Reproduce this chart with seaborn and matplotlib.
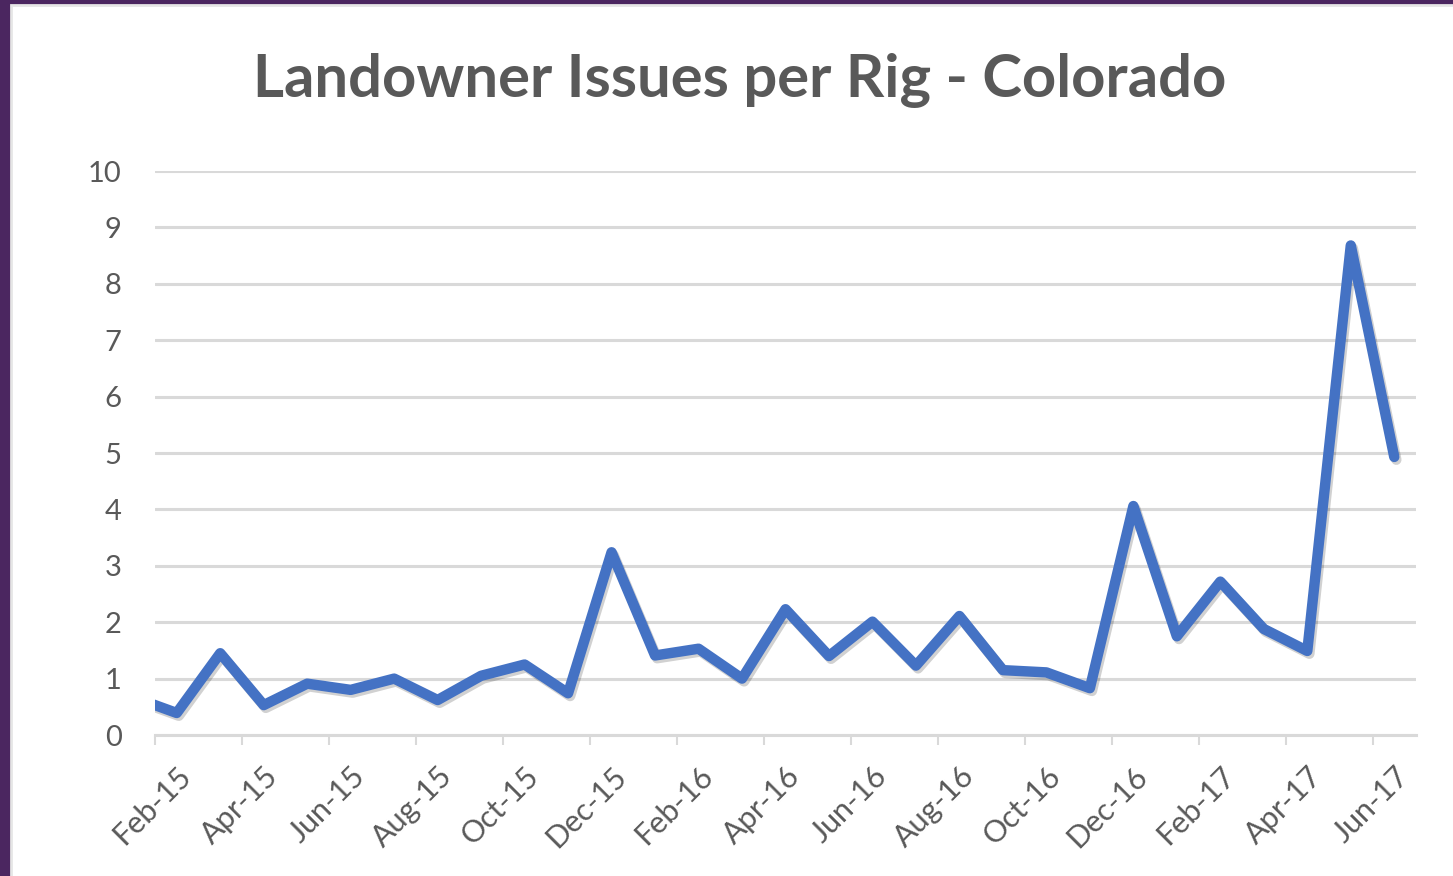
import numpy as np
import pandas as pd
import matplotlib
matplotlib.use("Agg")
import matplotlib.pyplot as plt
import matplotlib.patheffects as pe
from matplotlib.patches import Rectangle
import seaborn as sns

# monthly values (Jan-15 sits just left of the visible axis)
months = ["Jan-15", "Feb-15", "Mar-15", "Apr-15", "May-15", "Jun-15", "Jul-15",
          "Aug-15", "Sep-15", "Oct-15", "Nov-15", "Dec-15", "Jan-16", "Feb-16",
          "Mar-16", "Apr-16", "May-16", "Jun-16", "Jul-16", "Aug-16", "Sep-16",
          "Oct-16", "Nov-16", "Dec-16", "Jan-17", "Feb-17", "Mar-17", "Apr-17",
          "May-17", "Jun-17"]
issues_per_rig = [0.67, 0.39, 1.45, 0.53, 0.91, 0.80, 1.00,
                  0.62, 1.05, 1.25, 0.74, 3.24, 1.41, 1.53,
                  1.00, 2.23, 1.40, 2.01, 1.23, 2.11, 1.15,
                  1.11, 0.83, 4.06, 1.75, 2.72, 1.88, 1.49,
                  8.68, 4.93]
y_ticks = list(range(0, 11))

TEXT = "#595959"
GRID = "#d9d9d9"
LINE = "#4472C4"
PURPLE = "#4b2660"

df = pd.DataFrame({"month": months, "value": issues_per_rig})
df["pos"] = np.arange(len(df))

sns.set_theme(style="white")
plt.rcParams["font.family"] = ["Lato", "DejaVu Sans"]

fig = plt.figure(figsize=(14.53, 8.76), dpi=100, facecolor=PURPLE)
# white chart card with a faint border, leaving the purple slide edge on the left/top
fig.patches.append(Rectangle((11 / 1453, -0.01), 1, 1.01 - 5 / 876, transform=fig.transFigure,
                             facecolor="white", edgecolor="#e6e6e6", linewidth=2, zorder=-5))

ax = fig.add_axes([155 / 1453, 1 - 735 / 876, (1416 - 155) / 1453, (735 - 171) / 876])
ax.set_facecolor("none")
ax.set_zorder(2)

sns.lineplot(data=df, x="pos", y="value", ax=ax, color=LINE, linewidth=7.5,
             solid_capstyle="round", solid_joinstyle="round", zorder=3)
ax.lines[0].set_path_effects([pe.SimpleLineShadow(offset=(1.5, -2), shadow_color="black", alpha=0.18),
                              pe.Normal()])

ax.set_xlim(0.5, len(months) - 0.5)
ax.set_ylim(0, 10)
ax.set_yticks(y_ticks)
ax.set_yticklabels([str(t) for t in y_ticks], fontsize=21, color=TEXT)
ax.yaxis.grid(True, color=GRID, linewidth=2.2)
ax.set_axisbelow(True)

# tick marks at category boundaries, labels at category centres, every 2 months
label_pos = df["pos"][1::2]
ax.set_xticks(label_pos - 0.5)
ax.set_xticklabels([])
ax.set_xticks(label_pos, minor=True)
ax.set_xticklabels(df["month"][1::2], minor=True, rotation=45, ha="right",
                   rotation_mode="anchor", fontsize=22, color=TEXT)
ax.tick_params(axis="x", which="major", length=7, width=1.5, color=GRID, bottom=True)
ax.tick_params(axis="x", which="minor", length=0, pad=19)
ax.tick_params(axis="y", length=0, pad=24)

for side in ["top", "right", "left"]:
    ax.spines[side].set_visible(False)
ax.spines["bottom"].set_color(GRID)
ax.spines["bottom"].set_linewidth(2.2)
ax.set_xlabel("")
ax.set_ylabel("")

fig.text(740 / 1453, 1 - 80 / 876, "Landowner Issues per Rig - Colorado", ha="center", va="center",
         fontsize=43, fontweight="bold", color=TEXT)

fig.savefig("out.png", dpi=100, facecolor=PURPLE)
